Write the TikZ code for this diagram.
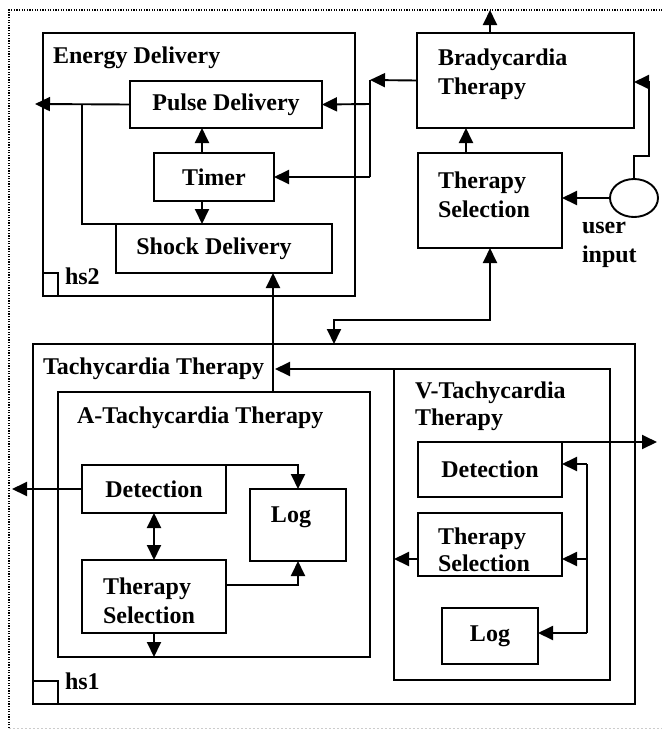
\documentclass[tikz,border=0pt]{standalone}
\usepackage{fontspec}
\setmainfont{Liberation Serif}
\usetikzlibrary{arrows.meta,shapes.geometric,fit}
\begin{document}
\begin{tikzpicture}[x=1pt,y=-1pt,
  lw/.style={line width=1.9pt},
  box/.style={draw, lw, inner sep=0pt, outer sep=0pt},
  txt/.style={inner sep=0pt, outer sep=0pt, align=left, font=\bfseries\fontsize{24}{29}\selectfont},
  tight/.style={font=\bfseries\fontsize{24}{27}\selectfont},
  arr/.style={lw, -{Triangle[length=15pt,width=14pt]}},
  darr/.style={lw, {Triangle[length=15pt,width=14pt]}-{Triangle[length=15pt,width=14pt]}},
]
\useasboundingbox (0,0) rectangle (662,729);
% frame
\draw[line width=1.3pt, dash pattern=on 1.3pt off 1.3pt] (9,728) -- (9,10) -- (662,10);
\draw[line width=1pt, dash pattern=on 2pt off 2pt, black!20] (9,728) -- (662,728);

% Energy Delivery
\node[box, fit={(43,33)(355,296)}] (ed) {};
\node[txt, anchor=west] (edt) at (53,58) {Energy Delivery};
\node[box, fit={(130,81)(322,128)}] (pd) {};
\node[txt] (pdt) at (pd.center) {Pulse Delivery};
\node[box, fit={(154,153)(274,201)}] (tm) {};
\node[txt] (tmt) at (tm.center) {Timer};
\node[box, fit={(116,224)(332,273)}] (sd) {};
\node[txt] (sdt) at (214,249) {Shock Delivery};
\node[box, fit={(43,273)(58,296)}] (hs2b) {};
\node[txt, anchor=west] (hs2) at (65,276) {hs2};

% Bradycardia / selection
\node[box, fit={(417,33)(634,128)}] (br) {};
\node[txt, anchor=west] (brt) at (438,74) {Bradycardia\\Therapy};
\node[box, fit={(418,153)(562,248)}] (ts) {};
\node[txt, anchor=west] (tst) at (438,195) {Therapy\\Selection};
\node[draw, lw, ellipse, inner sep=0pt, minimum width=48pt, minimum height=38pt] (ui) at (634,198) {};
\node[txt, anchor=west] (uit) at (582,245) {user\\input};

% Tachycardia
\node[box, fit={(33,344)(635,704)}] (ta) {};
\node[txt, anchor=west] (tat) at (43,369) {Tachycardia Therapy};
\node[box, fit={(33,681)(58,704)}] (hs1b) {};
\node[txt, anchor=west] (hs1) at (65,681) {hs1};

\node[box, fit={(58,392)(370,657)}] (at) {};
\node[txt, anchor=west] (att) at (77,418) {A-Tachycardia Therapy};
\node[box, fit={(82,465)(226,513)}] (adet) {};
\node[txt] (adett) at (adet.center) {Detection};
\node[box, fit={(250,489)(346,561)}] (alog) {};
\node[txt] (alogt) at (291,517) {Log};
\node[box, fit={(82,560)(226,633)}] (ats) {};
\node[txt, anchor=west] (atst) at (103,601) {Therapy\\Selection};

\node[box, fit={(394,369)(610,680)}] (vt) {};
\node[txt, tight, anchor=west] (vtt) at (415,406) {V-Tachycardia\\Therapy};
\node[box, fit={(418,442)(562,497)}] (vdet) {};
\node[txt] (vdett) at (vdet.center) {Detection};
\node[box, fit={(418,513)(562,576)}] (vts) {};
\node[txt, tight, anchor=west] (vtst) at (438,550) {Therapy\\Selection};
\node[box, fit={(442,608)(538,664)}] (vlog) {};
\node[txt] (vlogt) at (vlog.center) {Log};

% coordinates
\coordinate (edout) at (35,104);
\coordinate (j1) at (82,104);
\coordinate (bx) at (370,80);
\coordinate (bout) at (490,10);
\coordinate (uik) at (649,156);
\coordinate (dbl) at (334,320);
\coordinate (aout) at (12,489);
\coordinate (vout) at (657,442);
\coordinate (vbus) at (587,464);
\coordinate (tatip) at (275,369);

% Energy delivery connectors
\draw[arr] (pd.west) -- (edout);
\draw[lw] (j1) |- (sd.north west);
\draw[arr] (202,153) -- (202,128);
\draw[arr] (202,201) -- (202,224);
% Bradycardia connectors
\draw[arr] (br.west) -- (bx);
\draw[lw] (bx) -- (370,177);
\draw[arr] (370,177) -- (tm.east);
\draw[arr] (370,104) -- (pd.east);
\draw[arr] (br.north -| bout) -- (bout);
\draw[arr] (ts.north -| 466,0) -- (br.south -| 466,0);
\draw[arr] (ui.west) -- (ts.east |- ui.west);
\draw[arr] (ui.north) |- (uik) -- (649,82) -- (634,82);
\draw[darr] (ts.south) -- (ts.south |- dbl) -| (ta.north -| dbl);
% Tachy to shock
\draw[arr] (at.north -| 273,0) -- (sd.south -| 273,0);
\draw[arr] (vt.north west) -- (tatip);
% A-Tachy
\draw[arr] (adet.north east) -| (alog.north);
\draw[arr] (226,585) -| (alog.south);
\draw[darr] (adet.south) -- (ats.north);
\draw[arr] (ats.south) -- (at.south -| ats.south);
\draw[arr] (adet.west) -- (aout);
% V-Tachy
\draw[arr] (vdet.north east) -- (vout);
\draw[lw] (vbus) -- (587,633);
\draw[arr] (vbus) -- (vbus -| vdet.east);
\draw[arr] (587,559) -- (562,559);
\draw[arr] (587,633) -- (538,633);
\draw[arr] (418,559) -- (394,559);
\end{tikzpicture}
\end{document}
